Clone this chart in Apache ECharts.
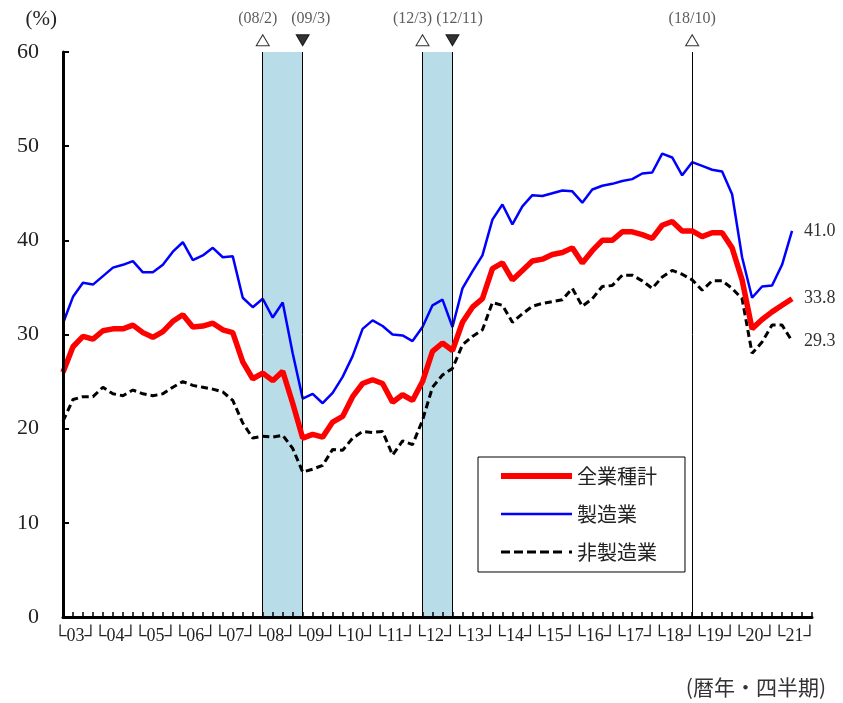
<!DOCTYPE html>
<html>
<head>
<meta charset="utf-8">
<script src="https://cdn.jsdelivr.net/npm/echarts@6/dist/echarts.min.js"></script>
<style>
  html, body { margin: 0; padding: 0; background: #fff; }
  #chart { width: 843px; height: 703px; }
</style>
</head>
<body>
<div id="chart"></div>
<script>
// Calendar years shown on the axis (two-digit), each split into four quarters
const years = ['03','04','05','06','07','08','09','10','11','12','13','14','15','16','17','18','19','20','21'];
const quarters = ['Q1','Q2','Q3','Q4'];
const categories = years.flatMap(y => quarters.map(q => y + q));

// 全業種計 (all industries), 03Q1 – 21Q2
const allIndustries = [
  26.0, 28.7, 29.8, 29.5, 30.4, 30.6, 30.6, 31.0, 30.2, 29.7,
  30.3, 31.4, 32.1, 30.8, 30.9, 31.2, 30.5, 30.2, 27.1, 25.3,
  25.9, 25.1, 26.1, 22.7, 19.0, 19.4, 19.1, 20.7, 21.3, 23.4,
  24.8, 25.2, 24.8, 22.8, 23.6, 23.0, 25.0, 28.2, 29.1, 28.3,
  31.3, 32.9, 33.8, 37.0, 37.6, 35.8, 36.8, 37.8, 38.0, 38.5,
  38.7, 39.2, 37.6, 38.9, 40.0, 40.0, 40.9, 40.9, 40.6, 40.2,
  41.6, 42.0, 41.0, 41.0, 40.4, 40.8, 40.8, 39.2, 35.8, 30.6,
  31.6, 32.4, 33.1, 33.8
];

// 製造業 (manufacturing)
const manufacturing = [
  31.2, 34.0, 35.5, 35.3, 36.2, 37.1, 37.4, 37.8, 36.6, 36.6,
  37.4, 38.8, 39.8, 37.9, 38.4, 39.2, 38.2, 38.3, 33.9, 32.9,
  33.8, 31.8, 33.4, 28.0, 23.2, 23.7, 22.7, 23.8, 25.5, 27.7,
  30.6, 31.5, 30.9, 30.0, 29.9, 29.3, 30.8, 33.1, 33.7, 30.8,
  34.9, 36.7, 38.4, 42.2, 43.8, 41.7, 43.6, 44.8, 44.7, 45.0,
  45.3, 45.2, 44.0, 45.4, 45.8, 46.0, 46.3, 46.5, 47.1, 47.2,
  49.2, 48.8, 46.9, 48.3, 47.9, 47.5, 47.3, 44.9, 38.2, 33.9,
  35.1, 35.2, 37.4, 41.0
];

// 非製造業 (non-manufacturing)
const nonManufacturing = [
  20.8, 23.1, 23.4, 23.4, 24.4, 23.7, 23.5, 24.1, 23.7, 23.5,
  23.7, 24.4, 25.0, 24.6, 24.4, 24.2, 23.9, 23.0, 20.6, 19.0,
  19.2, 19.1, 19.3, 17.9, 15.4, 15.7, 16.1, 17.8, 17.7, 19.0,
  19.7, 19.6, 19.7, 17.2, 18.7, 18.3, 20.9, 24.4, 25.7, 26.4,
  28.9, 29.8, 30.5, 33.4, 33.1, 31.3, 32.2, 33.0, 33.3, 33.5,
  33.7, 34.9, 33.0, 33.8, 35.1, 35.2, 36.3, 36.3, 35.7, 34.9,
  36.1, 36.8, 36.4, 35.8, 34.7, 35.7, 35.7, 34.9, 33.8, 28.0,
  29.2, 31.0, 31.0, 29.3
];

// Business-cycle turning points: peaks (△) and troughs (▼)
const eventQuarters = ['08Q1', '09Q1', '12Q1', '12Q4', '18Q4'];
const eventLabels   = ['(08/2)', '(09/3)', '(12/3)', '(12/11)', '(18/10)'];
const eventKinds    = ['peak', 'trough', 'peak', 'trough', 'peak'];
const eventLabelShift = [-5, 8, -10, 7, 0];
// Recession bands (peak → trough)
const recessions = [['08Q1', '09Q1'], ['12Q1', '12Q4']];

// Y-axis range
const yMin = 0, yMax = 60, yStep = 10;
const markerLevel = 61.25;

const serif = '"Liberation Serif", "DejaVu Serif", serif';
const jp = '"Noto Sans CJK JP", "Noto Sans", sans-serif';

// Legend keys drawn as flat bars (solid / dashed) instead of line+dot
const keySolidThick = 'path://M0,0h71v6h-71z';
const keySolidThin  = 'path://M0,0h71v2.5h-71z';
const keyDashed     = 'path://M0,0h9v3h-9z M13,0h9v3h-9z M26,0h9v3h-9z M39,0h9v3h-9z M52,0h9v3h-9z M68,0h3v3h-3z';

const chart = echarts.init(document.getElementById('chart'));

const endLabel = {
  show: true,
  formatter: p => Number(p.value).toFixed(1),
  color: '#333',
  fontSize: 18,
  fontFamily: serif,
  distance: 12
};

chart.setOption({
  animation: false,
  backgroundColor: '#fff',
  grid: { left: 63, right: 31, top: 52, bottom: 86 },
  xAxis: {
    type: 'category',
    data: categories,
    boundaryGap: false,
    z: 10,
    axisLine: { lineStyle: { color: '#000', width: 3 } },
    axisTick: { show: true, inside: true, length: 5, interval: 0, lineStyle: { color: '#000', width: 1.5 } },
    axisLabel: {
      // every category gets a label slot; only each year's second quarter carries the bracketed year
      interval: 0,
      formatter: (v, i) => (i % 4 === 1 ? '└' + v.slice(0, 2) + '┘' : ''),
      fontFamily: serif,
      fontSize: 18,
      color: '#222',
      margin: 10,
      padding: [0, 0, 0, 5]
    },
    splitLine: { show: false }
  },
  yAxis: {
    type: 'value',
    min: yMin,
    max: yMax,
    interval: yStep,
    z: 10,
    name: '(%)',
    nameLocation: 'end',
    nameGap: 22,
    nameTextStyle: { fontFamily: serif, fontSize: 21, color: '#222', align: 'right', padding: [0, 6, 0, 0] },
    axisLine: { show: true, lineStyle: { color: '#000', width: 3 } },
    axisTick: { show: true, inside: true, length: 6, lineStyle: { color: '#000', width: 2 } },
    axisLabel: { fontFamily: serif, fontSize: 22, color: '#222', margin: 24 },
    splitLine: { show: false }
  },
  legend: {
    orient: 'vertical',
    left: 478,
    top: 457,
    padding: [9, 28, 10, 23],
    itemWidth: 71,
    itemHeight: 20,
    itemGap: 18,
    itemTextGap: 6,
    borderColor: '#000',
    borderWidth: 1,
    backgroundColor: '#fff',
    itemStyle: { borderWidth: 0 },
    textStyle: { fontFamily: jp, fontSize: 20, color: '#222' },
    data: [
      { name: '全業種計', icon: keySolidThick },
      { name: '製造業', icon: keySolidThin },
      { name: '非製造業', icon: keyDashed }
    ]
  },
  graphic: [
    {
      type: 'text',
      right: 17,
      top: 677,
      style: { text: '(暦年・四半期)', fontFamily: jp, fontSize: 21, fill: '#333' }
    }
  ],
  series: [
    {
      name: 'events',
      type: 'scatter',
      clip: false,
      z: 1,
      silent: true,
      data: eventQuarters.map((q, k) => ({
        name: eventLabels[k],
        value: [q, markerLevel],
        symbol: 'triangle',
        symbolSize: [13, 11],
        symbolRotate: eventKinds[k] === 'peak' ? 0 : 180,
        itemStyle: eventKinds[k] === 'peak'
          ? { color: '#fff', borderColor: '#000', borderWidth: 1 }
          : { color: '#000', borderColor: '#000', borderWidth: 1 },
        label: { offset: [eventLabelShift[k], 0] }
      })),
      label: {
        show: true,
        position: 'top',
        distance: 7,
        formatter: '{b}',
        fontFamily: serif,
        fontSize: 16,
        color: '#333'
      },
      markArea: {
        silent: true,
        itemStyle: { color: '#b8dde8' },
        data: recessions.map(([a, b]) => [{ xAxis: a }, { xAxis: b }])
      },
      markLine: {
        silent: true,
        symbol: ['none', 'none'],
        label: { show: false },
        lineStyle: { color: '#000', width: 1, type: 'solid' },
        data: eventQuarters.map(q => ({ xAxis: q }))
      }
    },
    {
      name: '非製造業',
      type: 'line',
      data: nonManufacturing,
      symbol: 'none',
      z: 3,
      lineStyle: { color: '#000', width: 3, type: [7, 4] },
      itemStyle: { color: '#000' },
      endLabel: endLabel
    },
    {
      name: '製造業',
      type: 'line',
      data: manufacturing,
      symbol: 'none',
      z: 4,
      lineStyle: { color: '#0000ff', width: 2.5 },
      itemStyle: { color: '#0000ff' },
      endLabel: endLabel
    },
    {
      name: '全業種計',
      type: 'line',
      data: allIndustries,
      symbol: 'none',
      z: 5,
      lineStyle: { color: '#ff0000', width: 5.5 },
      itemStyle: { color: '#ff0000' },
      endLabel: endLabel
    }
  ]
});
</script>
</body>
</html>
